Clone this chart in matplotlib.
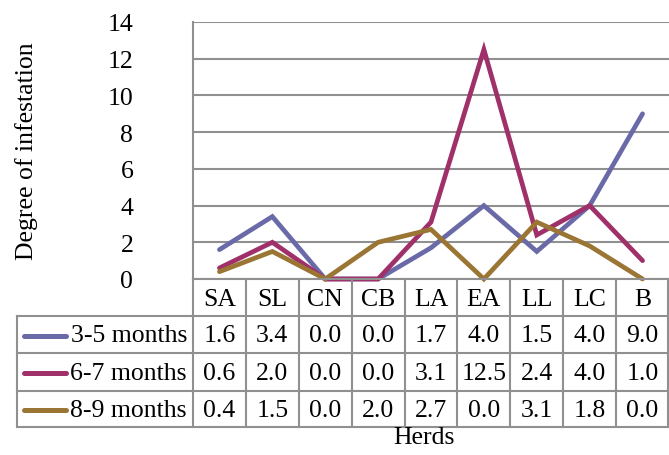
import matplotlib
matplotlib.use("Agg")
import matplotlib.pyplot as plt
import matplotlib.transforms as mtransforms
from matplotlib.lines import Line2D

herds = ["SA", "SL", "CN", "CB", "LA", "EA", "LL", "LC", "B"]
series_names = ["3-5 months", "6-7 months", "8-9 months"]
m3_5 = [1.6, 3.4, 0.0, 0.0, 1.7, 4.0, 1.5, 4.0, 9.0]
m6_7 = [0.6, 2.0, 0.0, 0.0, 3.1, 12.5, 2.4, 4.0, 1.0]
m8_9 = [0.4, 1.5, 0.0, 2.0, 2.7, 0.0, 3.1, 1.8, 0.0]
y_ticks = [0, 2, 4, 6, 8, 10, 12, 14]
colors = ["#6B6AA8", "#A0306A", "#9A7534"]

W, H = 669, 456
DPI = 100
plt.rcParams['font.family'] = ['Liberation Serif', 'DejaVu Serif']
FS = 18.5

fig = plt.figure(figsize=(W / DPI, H / DPI), dpi=DPI)

L, R, T, B = 193, 669, 23, 280
ax = fig.add_axes([L / W, (H - B) / H, (R - L) / W, (B - T) / H])
ax.set_xlim(-0.5, len(herds) - 0.5)
ax.set_ylim(0, 14)
ax.set_yticks(y_ticks)
ax.set_yticklabels([str(t) for t in y_ticks], fontsize=FS)
ax.tick_params(axis='y', length=0, pad=43)
ax.set_xticks([])
gc = '#909090'
lw = 1.5
ax.grid(axis='y', color=gc, linewidth=lw)
ax.set_axisbelow(True)
for s in ['top', 'right', 'bottom']:
    ax.spines[s].set_visible(False)
ax.spines['left'].set_color(gc)
ax.spines['left'].set_linewidth(lw)

series = [m3_5, m6_7, m8_9]
x = list(range(len(herds)))
for vals, c in zip(series, colors):
    ax.plot(x, vals, color=c, linewidth=3.4, solid_capstyle='round',
            solid_joinstyle='miter', clip_on=False, zorder=3)

def fx(px):
    return px / W

def fy(py):
    return (H - py) / H

fig.text(fx(27), fy(151), "Degree of infestation", rotation=90,
         ha='center', va='center', fontsize=FS)

row_y = [280, 317, 354, 392, 428]
col_x = [L + i * (R - L) / len(herds) for i in range(len(herds) + 1)]
col_x[-1] = 668
TL = 17
fig.add_artist(Line2D([fx(L), fx(668)], [fy(row_y[0])] * 2, color=gc, lw=lw))
for yy in row_y[1:]:
    fig.add_artist(Line2D([fx(TL), fx(668)], [fy(yy)] * 2, color=gc, lw=lw))
fig.add_artist(Line2D([fx(TL)] * 2, [fy(row_y[1]), fy(row_y[-1])], color=gc, lw=lw))
for xx in col_x:
    fig.add_artist(Line2D([fx(xx)] * 2, [fy(row_y[0]), fy(row_y[-1])], color=gc, lw=lw))

trans_hdr = mtransforms.blended_transform_factory(ax.transData, fig.transFigure)
for i, h in enumerate(herds):
    fig.text(i, fy((row_y[0] + row_y[1]) / 2 + 1), h, transform=trans_hdr,
             ha='center', va='center', fontsize=FS)

for r, (name, vals, c) in enumerate(zip(series_names, series, colors)):
    yc = fy((row_y[r + 1] + row_y[r + 2]) / 2 + 1)
    fig.add_artist(Line2D([fx(24), fx(66)], [yc, yc], color=c, lw=3.6,
                          solid_capstyle='round'))
    fig.text(fx(187), yc, name, ha='right', va='center', fontsize=FS)
    for i, v in enumerate(vals):
        fig.text(i, yc, f"{v:.1f}", transform=trans_hdr,
                 ha='center', va='center', fontsize=FS)

fig.text(fx(424), fy(438), "Herds", ha='center', va='center', fontsize=FS)

fig.savefig("out.png", dpi=DPI)
